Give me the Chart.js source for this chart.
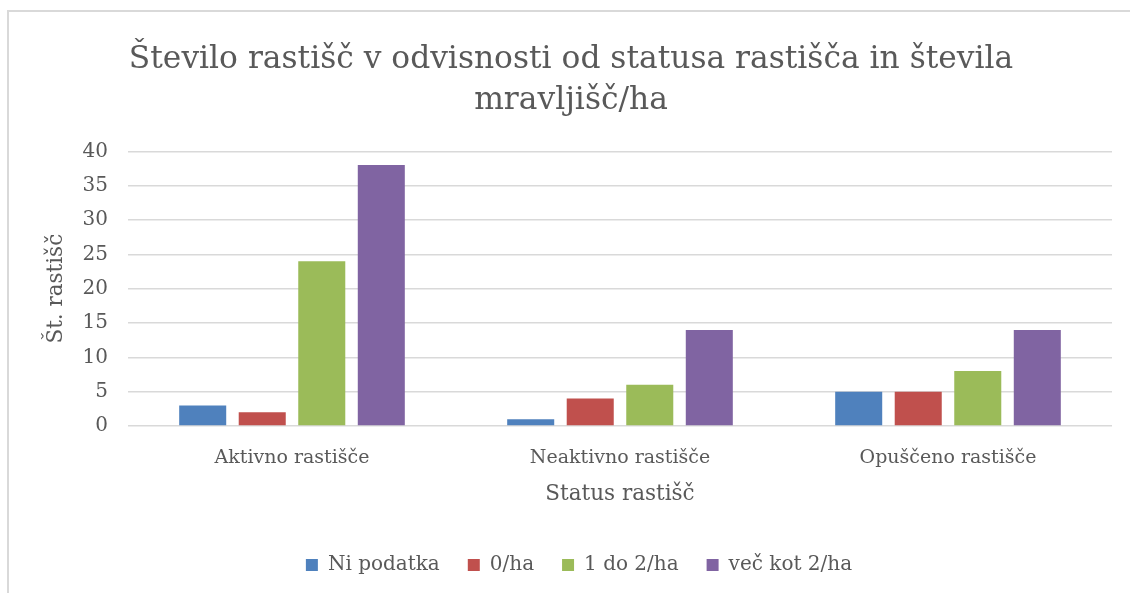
<!DOCTYPE html>
<html>
<head>
<meta charset="utf-8">
<script src="https://cdn.jsdelivr.net/npm/chart.js@4"></script>
<style>
    html, body { margin: 0; padding: 0; background: #fff; overflow: hidden; }
    #wrap { position: absolute; left: 0; top: 0; width: 1130px; height: 593px; overflow: hidden; }
    #frame {
        position: absolute; left: 7px; top: 10px; width: 1200px; height: 700px;
        border-left: 2px solid #d9d9d9; border-top: 2px solid #d9d9d9;
    }
    canvas { position: absolute; left: 0; top: 0; }
</style>
</head>
<body>
<div id="wrap">
    <div id="frame"></div>
    <canvas id="chart" width="1130" height="593"></canvas>
</div>
<script>
// Data
const categories = ['Aktivno rastišče', 'Neaktivno rastišče', 'Opuščeno rastišče'];
const seriesNames = ['Ni podatka', '0/ha', '1 do 2/ha', 'več kot 2/ha'];
const niPodatka = [3, 1, 5];
const nicHa = [2, 4, 5];
const enaDoDve = [24, 6, 8];
const vecKotDve = [38, 14, 14];
const colors = ['#4f81bd', '#c0504d', '#9bbb59', '#8064a2'];

const FONT = "'DejaVu Serif', serif";
const TEXT = '#595959';

Chart.defaults.font.family = FONT;
Chart.defaults.color = TEXT;

const seriesValues = [niPodatka, nicHa, enaDoDve, vecKotDve];

// nudge the legend a bit to the right, like in the original
const legendShift = {
    id: 'legendShift',
    afterLayout(chart) {
        chart.legend.left += 8;
        chart.legend.right += 8;
    }
};

const ctx = document.getElementById('chart').getContext('2d');
new Chart(ctx, {
    type: 'bar',
    data: {
        labels: categories,
        datasets: seriesNames.map((name, i) => ({
            label: name,
            data: seriesValues[i],
            backgroundColor: colors[i],
            categoryPercentage: 0.726,
            barPercentage: 0.79
        }))
    },
    options: {
        responsive: false,
        animation: false,
        layout: {
            padding: { top: 40, left: 30, right: 18, bottom: 8 }
        },
        plugins: {
            title: {
                display: true,
                text: ['Število rastišč v odvisnosti od statusa rastišča in števila', 'mravljišč/ha'],
                font: { size: 31.3, weight: 'normal', lineHeight: 1.3 },
                color: TEXT,
                padding: { top: 0, bottom: 30 }
            },
            legend: {
                position: 'bottom',
                labels: {
                    boxWidth: 12,
                    boxHeight: 12,
                    padding: 28,
                    font: { size: 20 },
                    color: TEXT
                }
            },
            tooltip: { enabled: false }
        },
        scales: {
            x: {
                grid: { display: false },
                border: { display: false },
                ticks: { font: { size: 19 }, color: TEXT, padding: 13 },
                title: {
                    display: true,
                    text: 'Status rastišč',
                    font: { size: 21.5 },
                    color: TEXT,
                    padding: { top: 0, bottom: 20 }
                },
                afterFit: (scale) => { scale.height = 101; }
            },
            y: {
                min: 0,
                max: 40,
                ticks: { stepSize: 5, font: { size: 20 }, color: TEXT, padding: 20 },
                grid: { color: '#d9d9d9', lineWidth: 1.5, drawTicks: false },
                border: { display: false },
                title: {
                    display: true,
                    text: 'Št. rastišč',
                    font: { size: 21.5 },
                    color: TEXT,
                    padding: { top: 14, bottom: 0 }
                },
                afterFit: (scale) => { scale.width = 98; }
            }
        }
    },
    plugins: [legendShift]
});
</script>
</body>
</html>
